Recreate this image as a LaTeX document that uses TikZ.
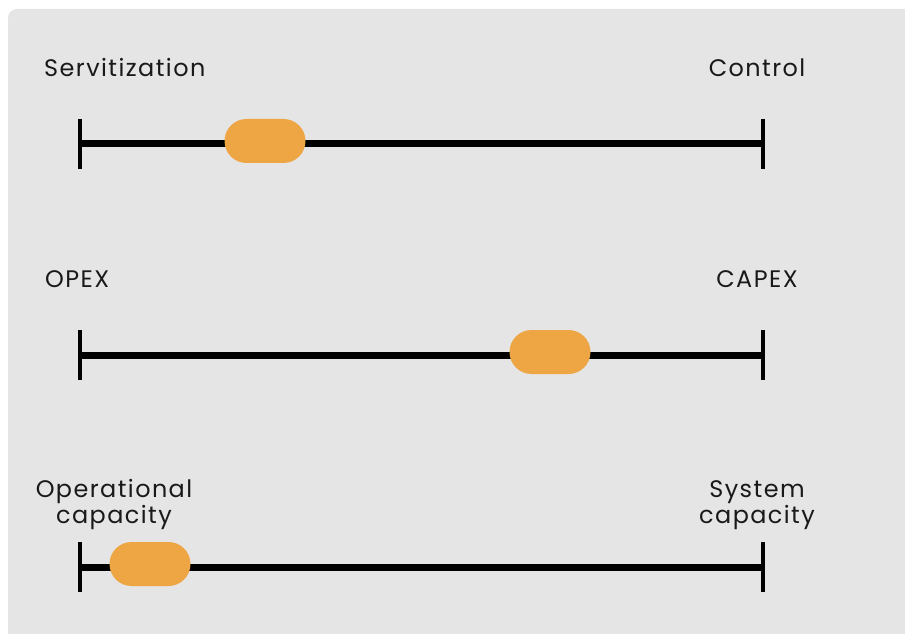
\documentclass[tikz,border=0pt]{standalone}
\usepackage{fontspec}
\setmainfont[LetterSpace=6]{Poppins}
\usetikzlibrary{shapes.misc}
\definecolor{panel}{HTML}{E5E5E5}
\definecolor{knob}{HTML}{EDA643}
\tikzset{
  label/.style={font=\fontsize{24}{24}\selectfont, inner sep=0pt, text=black!90},
  axis/.style={line width=7bp, black},
  tick/.style={line width=4bp, black},
  knobshape/.style={rounded rectangle, fill=knob, draw=none, minimum width=81bp, minimum height=44bp, inner sep=0pt}
}
\begin{document}
\begin{tikzpicture}[x=1bp,y=-1bp]
\useasboundingbox (0,0) rectangle (905,634);
% panel
\begin{scope}
\clip (0,0) rectangle (905,634);
\fill[panel, rounded corners=9bp] (8,9) rectangle (940,670);
\end{scope}

% scale 1: Servitization -- Control
\coordinate (a1) at (80,144);
\coordinate (b1) at (763,144);
\draw[axis] (a1) -- (b1);
\draw[tick] ([yshift=-25bp]a1) -- ([yshift=25bp]a1);
\draw[tick] ([yshift=-25bp]b1) -- ([yshift=25bp]b1);
\node[knobshape] (k1) at (265,141) {};
\node[label, anchor=base west] (l1) at (44,77) {Servitization};
\node[label, anchor=base] (r1) at (757,77) {Control};

% scale 2: OPEX -- CAPEX
\coordinate (a2) at (80,355);
\coordinate (b2) at (763,355);
\draw[axis] (a2) -- (b2);
\draw[tick] ([yshift=-25bp]a2) -- ([yshift=25bp]a2);
\draw[tick] ([yshift=-25bp]b2) -- ([yshift=25bp]b2);
\node[knobshape] (k2) at (550,352) {};
\node[label, anchor=base west] (l2) at (45,287) {OPEX};
\node[label, anchor=base] (r2) at (757,287) {CAPEX};

% scale 3: Operational capacity -- System capacity
\coordinate (a3) at (80,567);
\coordinate (b3) at (763,567);
\draw[axis] (a3) -- (b3);
\draw[tick] ([yshift=-25bp]a3) -- ([yshift=25bp]a3);
\draw[tick] ([yshift=-25bp]b3) -- ([yshift=25bp]b3);
\node[knobshape] (k3) at (150,564) {};
% multi-line labels: the base anchor sits on the last line
\node[label, anchor=base, align=center] (l3) at (114,523) {Operational\\capacity};
\node[label, anchor=base, align=center] (r3) at (757,523) {System\\capacity};
\end{tikzpicture}
\end{document}
